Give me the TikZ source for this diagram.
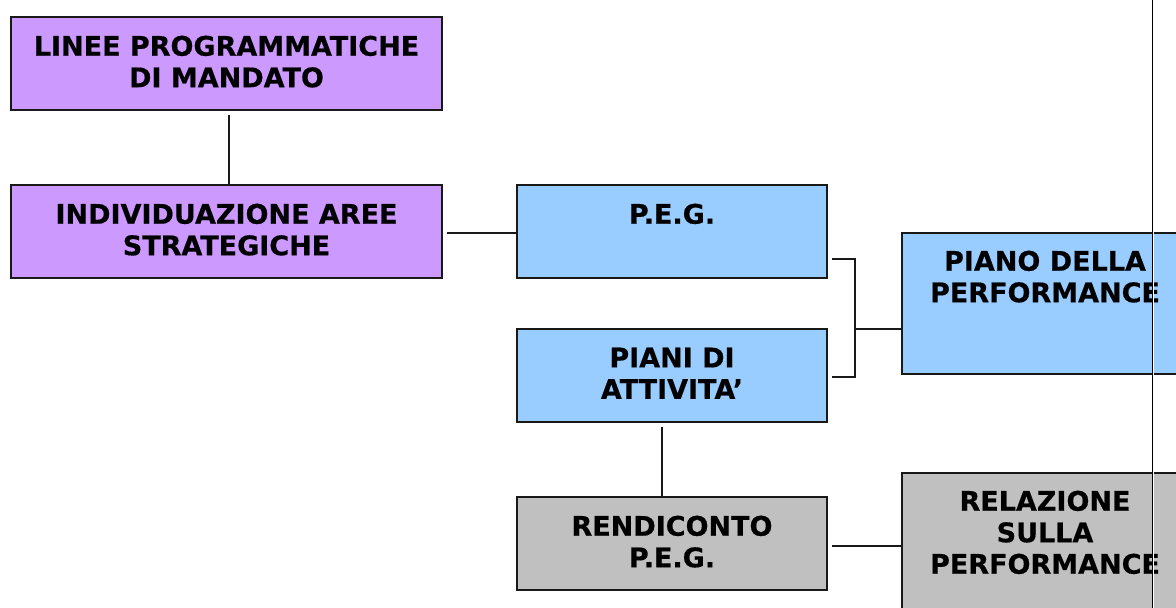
\documentclass[tikz,border=0pt]{standalone}
\usepackage{fontspec}
\setmainfont{DejaVu Sans}[BoldFeatures={FakeBold=0.5}]
\usetikzlibrary{calc}
\definecolor{purp}{HTML}{CC99FF}
\definecolor{sky}{HTML}{99CCFF}
\definecolor{greybox}{HTML}{C0C0C0}
\tikzset{
  box/.style={draw=black!90, line width=2pt, rectangle, inner sep=0pt, anchor=north west},
  txt/.style={font=\fontsize{27}{31.5}\selectfont\bfseries, align=center, inner sep=0pt, anchor=north, text=black},
  conn/.style={draw=black!90, line width=2pt}
}
\begin{document}
\begin{tikzpicture}[x=1pt,y=-1pt]
\clip (0,0) rectangle (1176,608);
\fill[white] (0,0) rectangle (1176,608);
% boxes
\node[box, fill=purp, minimum width=431pt, minimum height=93pt] (lin) at (10,16) {};
\node[box, fill=purp, minimum width=431pt, minimum height=93pt] (ind) at (10,184) {};
\node[box, fill=sky, minimum width=310pt, minimum height=93pt] (peg) at (516,184) {};
\node[box, fill=sky, minimum width=310pt, minimum height=93pt] (pia) at (516,328) {};
\node[box, fill=sky, minimum width=300pt, minimum height=141pt] (pdp) at (901,232) {};
\node[box, fill=greybox, minimum width=300pt, minimum height=150pt] (rel) at (901,472) {};
\node[box, fill=greybox, minimum width=310pt, minimum height=93pt] (ren) at (516,496) {};
% texts
\node[txt] (tlin) at ([yshift=-19.5pt]lin.north) {LINEE PROGRAMMATICHE\\DI MANDATO};
\node[txt] (tind) at ([yshift=-19.5pt]ind.north) {INDIVIDUAZIONE AREE\\STRATEGICHE};
\node[txt] (tpeg) at ([yshift=-19.5pt]peg.north) {P.E.G.};
\node[txt] (tpia) at ([yshift=-19.5pt]pia.north) {PIANI DI\\ATTIVITA’};
\node[txt] (tpdp) at ([xshift=-7pt,yshift=-18.5pt]pdp.north) {PIANO DELLA\\PERFORMANCE};
\node[txt] (tren) at ([yshift=-19.5pt]ren.north) {RENDICONTO\\P.E.G.};
\node[txt] (trel) at ([xshift=-7pt,yshift=-18.5pt]rel.north) {RELAZIONE\\SULLA\\PERFORMANCE};
% connectors
\draw[conn] ([yshift=-4pt]lin.south -| 229,0) -- (ind.north -| 229,0);
\draw[conn] ([xshift=4pt]ind.east |- 0,233) -- (peg.west |- 0,233);
\coordinate (b1) at ([xshift=4pt,yshift=20pt]peg.south east);
\coordinate (b2) at ([xshift=4pt,yshift=-49pt]pia.north east);
\coordinate (bm) at (855,329);
\draw[conn] (b1) -- (b1 -| bm) -- (b2 -| bm) -- (b2);
\draw[conn] (bm) -- (pdp.west |- bm);
\draw[conn] ([yshift=-4pt]pia.south -| 662,0) -- (ren.north -| 662,0);
\draw[conn] ([xshift=4pt]ren.east |- 0,546) -- (rel.west |- 0,546);
% page margin line
\coordinate (mt) at (1152.5,0);
\coordinate (mb) at (1152.5,608);
\draw[white, line width=1pt] ([xshift=1.3pt]mt) -- ([xshift=1.3pt]mb);
\draw[black, line width=1.2pt] (mt) -- (mb);
\end{tikzpicture}
\end{document}
